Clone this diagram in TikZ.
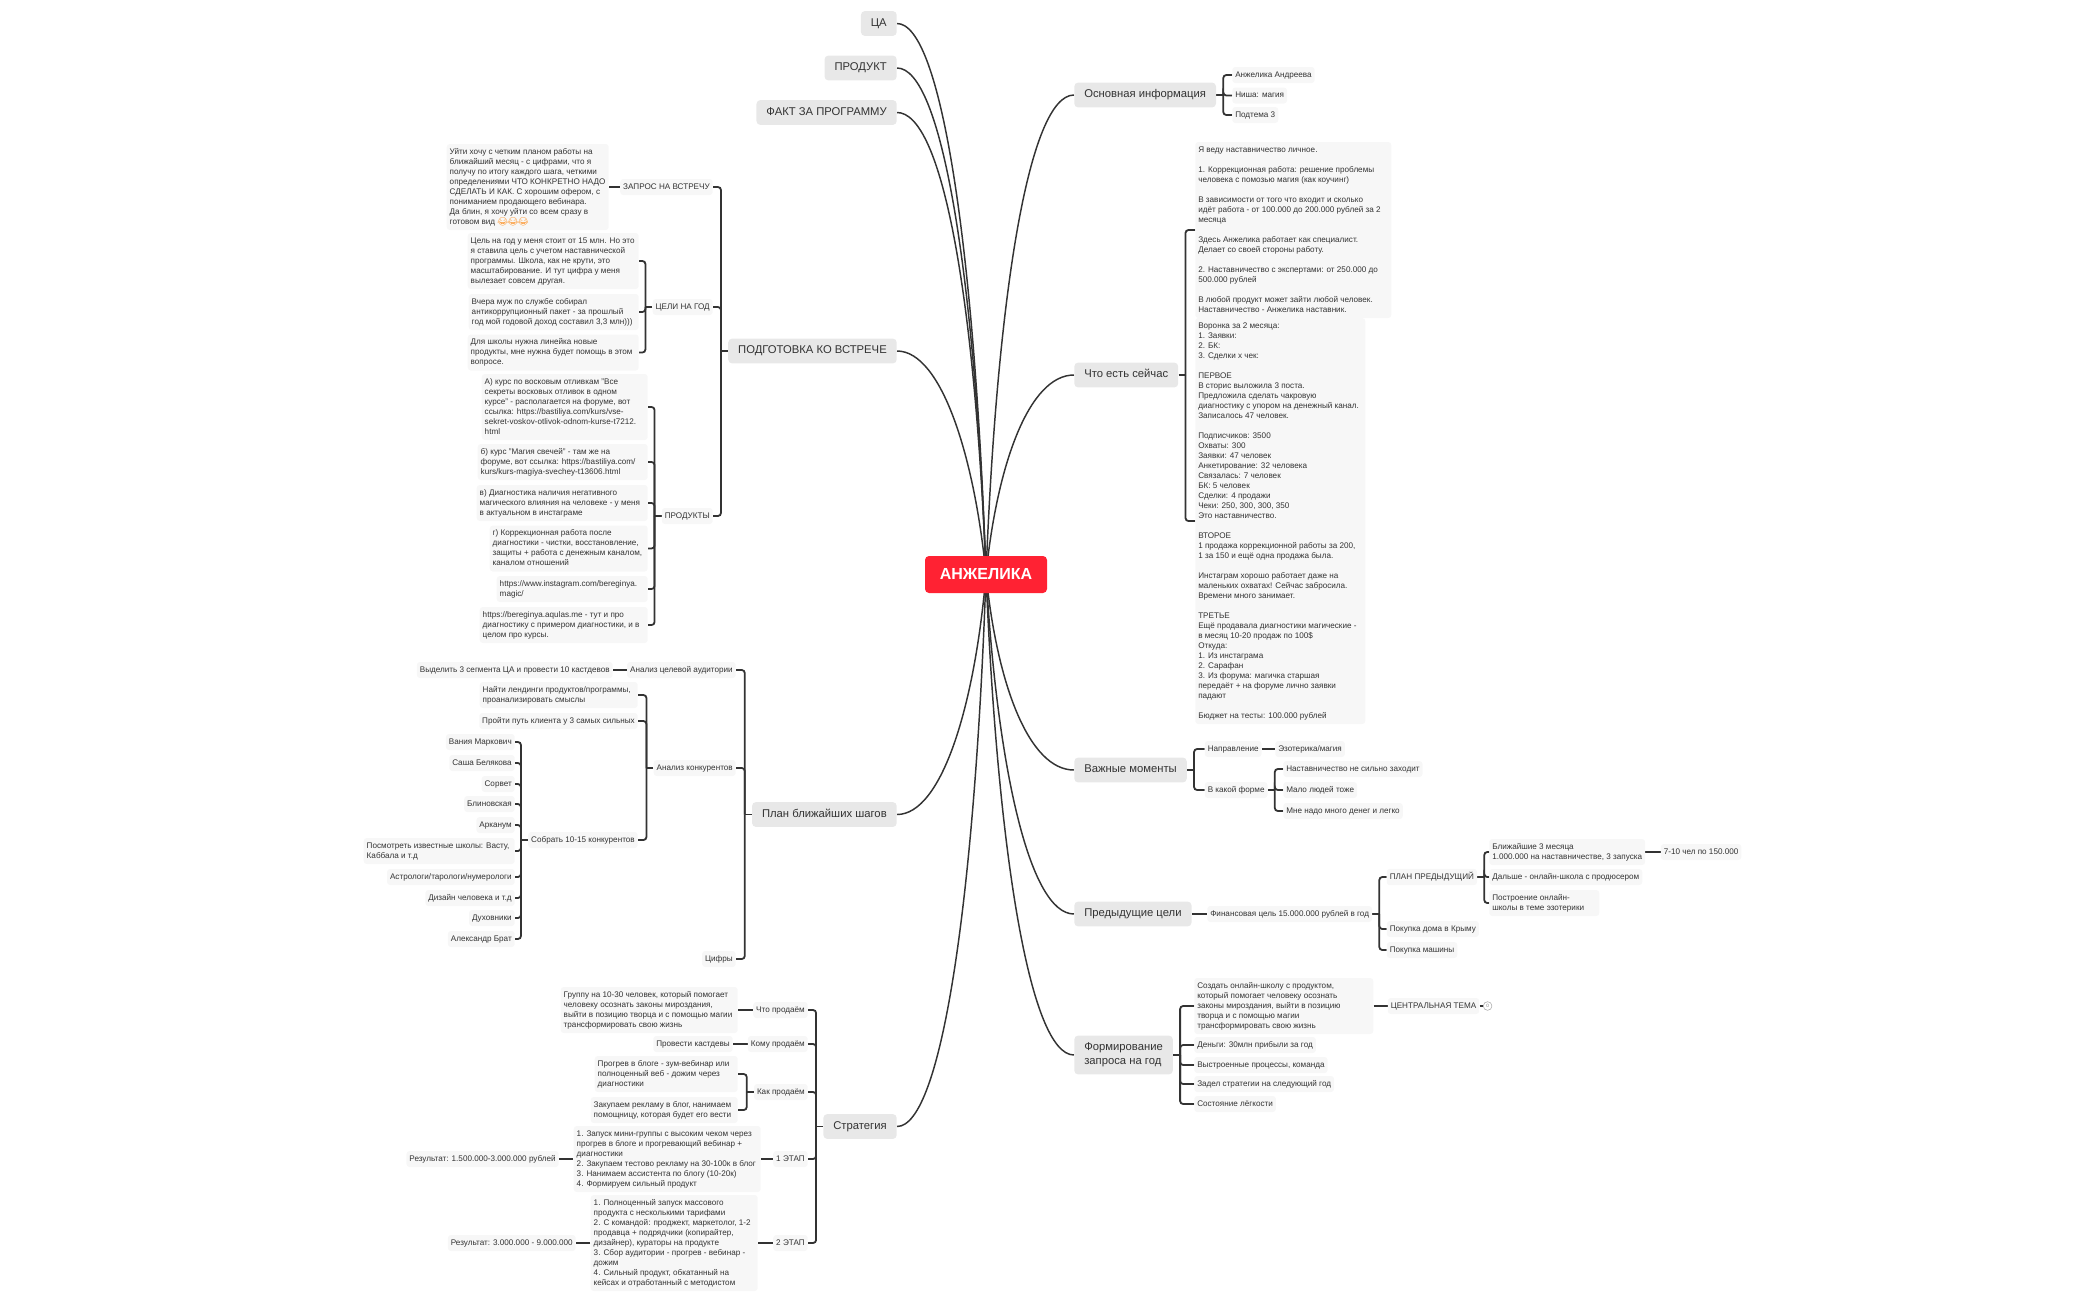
\documentclass[tikz,border=0pt]{standalone}
\usepackage{fontspec}
\setmainfont{Liberation Sans}
\newfontfamily\emojifont{Noto Emoji}
\usetikzlibrary{backgrounds}
\definecolor{inkline}{HTML}{333333}
\definecolor{inktext}{HTML}{333333}
\definecolor{notefill}{HTML}{F7F7F7}
\definecolor{topicfill}{HTML}{E8E8E8}
\definecolor{rootred}{HTML}{FF2233}
\tikzset{
  note/.style={fill=notefill,rounded corners=2.25pt,inner xsep=2.25pt,inner ysep=2.25pt,align=left,
    text=inktext,font=\fontsize{6.1}{7.5}\selectfont,execute at begin node=\strut},
  topic/.style={fill=topicfill,rounded corners=3pt,inner xsep=7.5pt,inner ysep=4.1pt,align=left,
    text=inktext,font=\fontsize{8.45}{10.5}\selectfont,execute at begin node=\strut},
  rootbox/.style={fill=rootred,rounded corners=3pt,minimum width=91.5pt,minimum height=27.75pt,
    text=white,font=\fontsize{12}{14}\selectfont\bfseries},
  badge/.style={circle,draw=gray!70,line width=0.4pt,fill=white,inner sep=0pt,minimum size=6.5pt,
    text=gray,font=\fontsize{3.5}{4}\selectfont},
  rootline/.style={draw=inkline,line width=1.1pt},
  branch/.style={draw=inkline,line width=1.35pt,rounded corners=2.25pt}
}
\newcommand{\boxw}[1]{\strut\rule{\dimexpr#1\dimexpr0.75pt\relax-4.5pt\relax}{0pt}\\[-7.5pt]}
\newcommand{\busleft}[2]{\draw[branch] (#1.west) -- ++(-7,0) coordinate (busnow);
  \foreach \kidname in {#2} \draw[branch] (busnow) |- (\kidname.east);}
\newcommand{\busright}[2]{\draw[branch] (#1.east) -- ++(7,0) coordinate (busnow);
  \foreach \kidname in {#2} \draw[branch] (busnow) |- (\kidname.west);}
\begin{document}
\begin{tikzpicture}[x=0.75pt,y=-0.75pt]
  \useasboundingbox (0,-1) rectangle (2100,1299);
  \node[rootbox] (root) at (986,573.5) {АНЖЕЛИКА};
  \begin{scope}[every node/.append style={anchor=east}]
    \draw
      (897,22.5) node[topic] (tca){ЦА}
      (897,67) node[topic] (tprod){ПРОДУКТ}
      (897,111.5) node[topic] (tfact){ФАКТ ЗА ПРОГРАММУ}
      (897,350) node[topic] (tprep){ПОДГОТОВКА КО ВСТРЕЧЕ}
      (897,813.5) node[topic] (tplan){План ближайших шагов}
      (897,1125.5) node[topic] (tstrat){Стратегия};
    \draw
      (713,186) node[note] (qreq){ЗАПРОС НА ВСТРЕЧУ}
      (609,186) node[note] (qnote){\boxw{162}Уйти хочу с четким планом работы на\\ближайший месяц - с цифрами, что я\\получу по итогу каждого шага,  четкими\\определениями ЧТО КОНКРЕТНО НАДО\\СДЕЛАТЬ И КАК. С хорошим офером, с\\пониманием продающего вебинара.\\Да блин, я хочу уйти со всем сразу в\\готовом вид {\emojifont\color{orange}😂😂😂}\strut}
      (713,306) node[note] (qgoal){ЦЕЛИ НА ГОД}
      (639,260) node[note] (gone){\boxw{171}Цель на год у меня стоит от 15 млн. Но это\\я ставила цель с учетом наставнической\\программы. Школа, как не крути, это\\масштабирование. И тут цифра у меня\\вылезает совсем другая.\strut}
      (639,311) node[note] (gtwo){\boxw{170}Вчера муж по службе собирал\\антикоррупционный пакет - за прошлый\\год мой годовой доход составил 3,3 млн)))\strut}
      (639,351.5) node[note] (gthree){\boxw{171}Для школы нужна линейка новые\\продукты, мне нужна будет помощь в этом\\вопросе.\strut}
      (713,515) node[note] (qprods){ПРОДУКТЫ}
      (648,406) node[note] (pone){\boxw{166}А) курс по восковым отливкам "Все\\секреты восковых отливок в одном\\курсе"  - располагается на форуме, вот\\ссылка: https://bastiliya.com/kurs/vse-\\sekret-voskov-otlivok-odnom-kurse-t7212.\\html\strut}
      (648,461) node[note] (ptwo){\boxw{170}б) курс "Магия свечей" - там же на\\форуме, вот ссылка:  https://bastiliya.com/\\kurs/kurs-magiya-svechey-t13606.html\strut}
      (648,502) node[note] (pthree){\boxw{171}в) Диагностика наличия негативного\\магического влияния на человеке - у меня\\в актуальном в инстаграме\strut}
      (648,547.5) node[note] (pfour){\boxw{158}г) Коррекционная работа после\\диагностики - чистки, восстановление,\\защиты + работа с денежным каналом,\\каналом отношений\strut}
      (648,588) node[note] (pfive){\boxw{151}https://www.instagram.com/bereginya.\\magic/\strut}
      (648,624) node[note] (psix){\boxw{168}https://bereginya.aqulas.me - тут и про\\диагностику с примером диагностики, и в\\целом про курсы.\strut};
    \draw
      (736,669) node[note] (aone){Анализ целевой аудитории}
      (613,669) node[note] (aonen){Выделить 3 сегмента ЦА и провести 10 кастдевов}
      (736,767) node[note] (atwo){Анализ конкурентов}
      (638,694) node[note] (atwoa){\boxw{158}Найти лендинги продуктов/программы,\\проанализировать смыслы\strut}
      (638,720) node[note] (atwob){Пройти путь клиента у 3 самых сильных}
      (638,839) node[note] (atwoc){Собрать 10-15 конкурентов}
      (515,741) node[note] (cone){Вания Маркович}
      (515,762) node[note] (ctwo){Саша Белякова}
      (515,783) node[note] (cthree){Сорвет}
      (515,803) node[note] (cfour){Блиновская}
      (515,824) node[note] (cfive){Арканум}
      (515,850) node[note] (csix){\boxw{151}Посмотреть известные школы: Васту,\\Каббала и т.д\strut}
      (515,876) node[note] (cseven){Астрологи/тарологи/нумерологи}
      (515,897) node[note] (ceight){Дизайн человека и т.д}
      (515,917) node[note] (cnine){Духовники}
      (515,938) node[note] (cten){Александр Брат}
      (736,958) node[note] (athree){Цифры};
    \draw
      (808,1009) node[note] (sone){Что продаём}
      (738,1009) node[note] (sonen){\boxw{177}Группу на 10-30 человек, который помогает\\человеку осознать законы мироздания,\\выйти в позицию творца и с помощью магии\\трансформировать свою жизнь\strut}
      (808,1043) node[note] (stwo){Кому продаём}
      (733,1043) node[note] (stwon){Провести кастдевы}
      (808,1091) node[note] (sthree){Как продаём}
      (738,1073) node[note] (sthreea){\boxw{143}Прогрев в блоге - зум-вебинар или\\полноценный веб - дожим через\\диагностики\strut}
      (738,1109) node[note] (sthreeb){\boxw{147}Закупаем рекламу в блог, нанимаем\\помощницу, которая будет его вести\strut}
      (808,1158) node[note] (sfour){1 ЭТАП}
      (761,1158) node[note] (sfourn){\boxw{187}1. Запуск мини-группы с высоким чеком через\\прогрев в блоге и прогревающий вебинар +\\диагностики\\2. Закупаем тестово рекламу на 30-100к в блог\\3. Нанимаем ассистента по блогу (10-20к)\\4. Формируем сильный продукт\strut}
      (559,1158) node[note] (sfourr){Результат: 1.500.000-3.000.000 рублей}
      (808,1242) node[note] (sfive){2 ЭТАП}
      (758,1242) node[note] (sfiven){\boxw{167}1. Полноценный запуск массового\\продукта с несколькими тарифами\\2. С командой: проджект, маркетолог, 1-2\\продавца + подрядчики (копирайтер,\\дизайнер), кураторы на продукте\\3. Сбор аудитории - прогрев - вебинар -\\дожим\\4. Сильный продукт, обкатанный на\\кейсах и отработанный с методистом\strut}
      (576,1242) node[note] (sfiver){Результат: 3.000.000 - 9.000.000};
  \end{scope}
  \begin{scope}[every node/.append style={anchor=west}]
    \draw
      (1074,94) node[topic] (tinfo){Основная информация}
      (1074,374) node[topic] (tnow){Что есть сейчас}
      (1074,769) node[topic] (tkey){Важные моменты}
      (1074,913) node[topic] (tprev){Предыдущие цели}
      (1074,1054) node[topic] (treq){\strut Формирование\\запроса на год\strut};
    \draw
      (1232,74) node[note] (ione){Анжелика Андреева}
      (1232,94.5) node[note] (itwo){Ниша: магия}
      (1232,114) node[note] (ithree){Подтема 3}
      (1195,229) node[note] (nowa){\boxw{196}Я веду наставничество личное.\\[7.5pt]1. Коррекционная работа: решение проблемы\\человека с помозью магия (как коучинг)\\[7.5pt]В зависимости от того что входит и сколько\\идёт работа - от 100.000 до 200.000 рублей за 2\\месяца\\[7.5pt]Здесь Анжелика работает как специалист.\\Делает со своей стороны работу.\\[7.5pt]2. Наставничество с экспертами: от 250.000 до\\500.000 рублей\\[7.5pt]В любой продукт может зайти любой человек.\\Наставничество - Анжелика наставник.\strut}
      (1195,520) node[note] (nowb){\boxw{170}Воронка за 2 месяца:\\1. Заявки:\\2. БК:\\3. Сделки х чек:\\[7.5pt]ПЕРВОЕ\\В сторис выложила 3 поста.\\Предложила сделать чакровую\\диагностику с упором на денежный канал.\\Записалось 47 человек.\\[7.5pt]Подписчиков: 3500\\Охваты: 300\\Заявки: 47 человек\\Анкетирование: 32 человека\\Связалась: 7 человек\\БК: 5 человек\\Сделки: 4 продажи\\Чеки: 250, 300, 300, 350\\Это наставничество.\\[7.5pt]ВТОРОЕ\\1 продажа коррекционной работы за 200,\\1 за 150 и ещё одна продажа была.\\[7.5pt]Инстаграм хорошо работает даже на\\маленьких охватах! Сейчас забросила.\\Времени много занимает.\\[7.5pt]ТРЕТЬЕ\\Ещё продавала диагностики магические -\\в месяц 10-20 продаж по 100\$\\Откуда:\\1. Из инстаграма\\2. Сарафан\\3. Из форума: магичка старшая\\передаёт + на форуме лично заявки\\падают\\[7.5pt]Бюджет на тесты: 100.000 рублей\strut}
      (1204.5,748) node[note] (kone){Направление}
      (1275,748) node[note] (konen){Эзотерика/магия}
      (1204.5,789) node[note] (ktwo){В какой форме}
      (1283,768) node[note] (ktwoa){Наставничество не сильно заходит}
      (1283,789) node[note] (ktwob){Мало людей тоже}
      (1283,810) node[note] (ktwoc){Мне надо много денег и легко}
      (1207,913) node[note] (fin){Финансовая цель 15.000.000 рублей в год}
      (1386.5,876) node[note] (fplan){ПЛАН ПРЕДЫДУЩИЙ}
      (1386.5,928) node[note] (fhouse){Покупка дома в Крыму}
      (1386.5,949) node[note] (fcar){Покупка машины}
      (1489,851) node[note] (lone){\strut Ближайшие 3 месяца\\1.000.000 на наставничестве, 3 запуска\strut}
      (1489,876) node[note] (ltwo){Дальше - онлайн-школа с продюсером}
      (1489,902) node[note] (lthree){\boxw{110}Построение онлайн-\\школы в теме эзотерики\strut}
      (1660.5,851) node[note] (lonen){7-10 чел по 150.000}
      (1194,1005) node[note] (rone){\boxw{179}Создать онлайн-школу с продуктом,\\который помогает человеку осознать\\законы мироздания, выйти в позицию\\творца и с помощью магии\\трансформировать свою жизнь\strut}
      (1194,1044) node[note] (rtwo){Деньги: 30млн прибыли за год}
      (1194,1064) node[note] (rthree){Выстроенные процессы, команда}
      (1194,1083) node[note] (rfour){Задел стратегии на следующий год}
      (1194,1103) node[note] (rfive){Состояние лёгкости}
      (1387.5,1005) node[note] (rtheme){ЦЕНТРАЛЬНАЯ ТЕМА}
      (1483,1005) node[badge] (rbadge){0};
  \end{scope}
  \begin{scope}[on background layer]
    \foreach \tname/\ctrly in {tca/-320,tprod/-300,tfact/-280,tprep/-115,tplan/130,tstrat/320}
      \draw[rootline] (root.center) .. controls +(-11,\ctrly) and +(45,0) .. (\tname.east);
    \foreach \tname/\ctrly in {tinfo/-280,tnow/-110,tkey/110,tprev/190,treq/270}
      \draw[rootline] (root.center) .. controls +(11,\ctrly) and +(-45,0) .. (\tname.west);
    \busleft{tprep}{qreq,qgoal,qprods}
    \busleft{qgoal}{gone,gtwo,gthree}
    \busleft{qprods}{pone,ptwo,pthree,pfour,pfive,psix}
    \busleft{tplan}{aone,atwo,athree}
    \busleft{atwo}{atwoa,atwob,atwoc}
    \busleft{atwoc}{cone,ctwo,cthree,cfour,cfive,csix,cseven,ceight,cnine,cten}
    \busleft{tstrat}{sone,stwo,sthree,sfour,sfive}
    \busleft{sthree}{sthreea,sthreeb}
    \busright{tinfo}{ione,itwo,ithree}
    \busright{tnow}{nowa,nowb}
    \busright{tkey}{kone,ktwo}
    \busright{ktwo}{ktwoa,ktwob,ktwoc}
    \busright{fin}{fplan,fhouse,fcar}
    \busright{fplan}{lone,ltwo,lthree}
    \busright{treq}{rone,rtwo,rthree,rfour,rfive}
    \foreach \from/\to in {qreq/qnote,aone/aonen,sone/sonen,stwo/stwon,sfour/sfourn,sfourn/sfourr,sfive/sfiven,sfiven/sfiver}
      \draw[branch] (\from.west) -- (\to.east);
    \foreach \from/\to in {kone/konen,tprev/fin,lone/lonen,rone/rtheme,rtheme/rbadge}
      \draw[branch] (\from.east) -- (\to.west);
  \end{scope}
\end{tikzpicture}
\end{document}
